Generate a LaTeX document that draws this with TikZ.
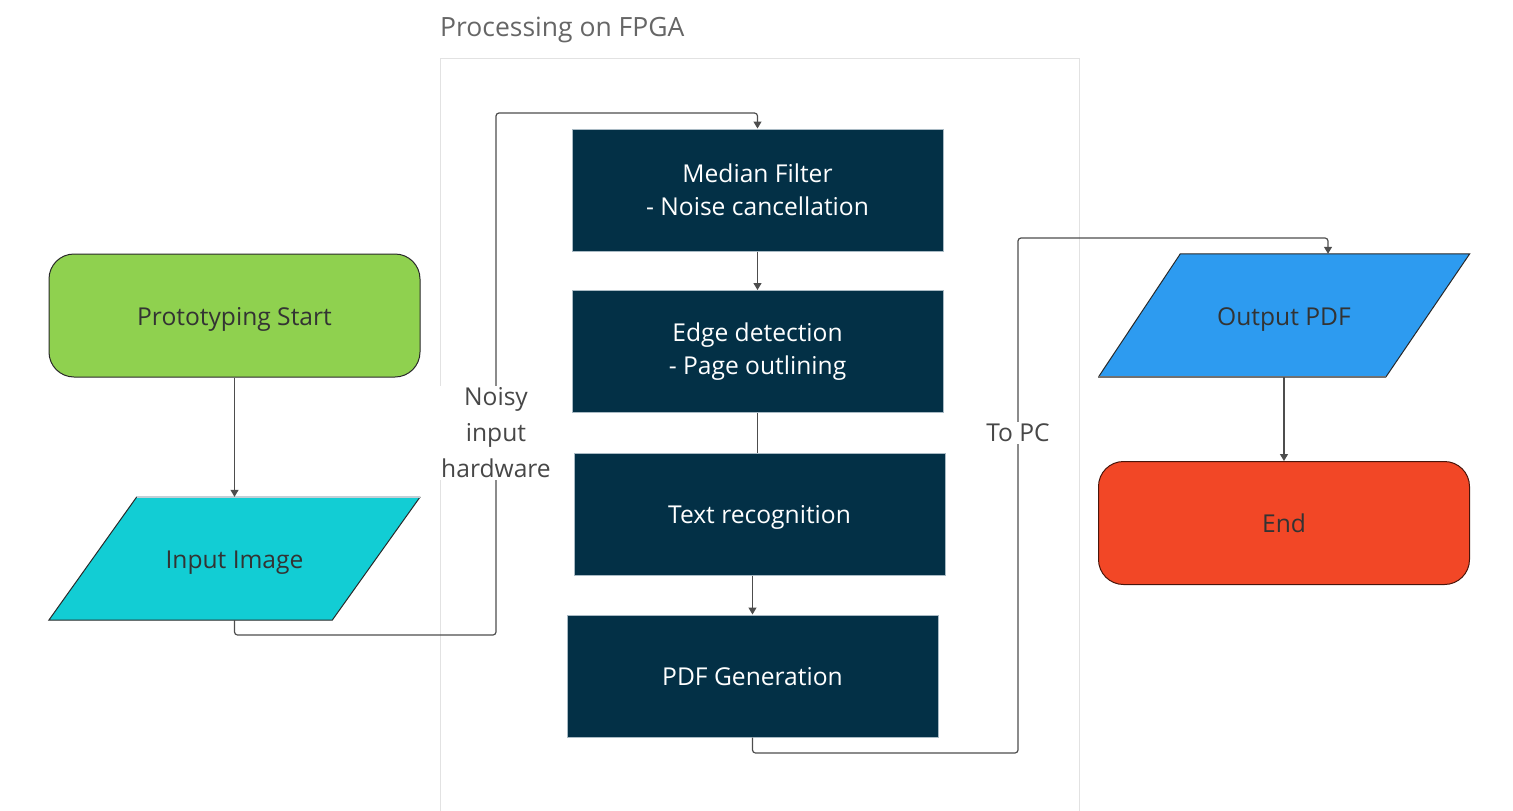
\documentclass[tikz,border=0pt]{standalone}
\usepackage{fontspec}
\setmainfont{Open Sans}
\usetikzlibrary{arrows.meta,calc}
\definecolor{cgreen}{HTML}{8FD14F}
\definecolor{ccyan}{HTML}{12CDD4}
\definecolor{cblue}{HTML}{2D9BF0}
\definecolor{cred}{HTML}{F24726}
\definecolor{cnavy}{HTML}{033046}
\definecolor{cnavyedge}{HTML}{A9BAC4}
\definecolor{cline}{HTML}{4D4D4D}
\definecolor{ctext}{HTML}{333333}
\definecolor{ctitle}{HTML}{666666}
\definecolor{cframe}{HTML}{E2E2E2}
\tikzset{
  basefont/.style={font=\fontsize{24.6}{33}\selectfont},
  oneline/.style={text height=26pt, text depth=7pt},
  termbox/.style={basefont, oneline, rounded corners=25pt, draw=ctext!80!black, line width=1pt,
    minimum width=371pt, minimum height=123pt, inner sep=0pt, text=ctext},
  procbox/.style={basefont, fill=cnavy, draw=cnavyedge, line width=1pt,
    minimum width=371pt, minimum height=122pt, inner sep=0pt, text=white, align=center},
  iobox/.style={basefont, minimum width=371pt, minimum height=123pt, inner sep=0pt, text=ctext},
  para/.style={draw=ctext!80!black, line width=1pt},
  conn/.style={draw=cline, line width=1.2pt, rounded corners=3pt},
  arr/.style={-{Triangle[width=8pt,length=7pt]}},
  lbl/.style={font=\fontsize{24.6}{36}\selectfont, fill=white, text=ctext!90, align=center, inner sep=2pt},
}
\begin{document}
\begin{tikzpicture}[x=1pt,y=-1pt]
\useasboundingbox (0,0) rectangle (1513,811);
% container
\draw[cframe, line width=1pt] (440,58) rectangle (1079,830);
\node[font=\fontsize{26.5}{32}\selectfont, text=ctitle, anchor=west, inner sep=0pt] (title) at (440,30) {Processing on FPGA};

% nodes
\node[termbox, fill=cgreen] (start) at (234.5,315.5) {Prototyping Start};
\node[iobox] (in) at (234.5,558.5) {};
\fill[ccyan] ($(in.north west)+(88,0)$) -- (in.north east) -- ($(in.south east)+(-88,0)$) -- (in.south west) -- cycle;
\draw[para] ($(in.north east)$) -- ($(in.south east)+(-88,0)$) -- (in.south west) -- ($(in.north west)+(88,0)$);
\draw[cnavyedge!70, line width=1.5pt] ($(in.north west)+(88,0)$) -- (in.north east);
\node[basefont, oneline, text=ctext, inner sep=0pt] (inlbl) at (in.center) {Input Image};

\node[procbox] (mf) at (757.5,190) {Median Filter\\- Noise cancellation};
\node[procbox] (ed) at (757.5,351.5) {Edge detection\\- Page outlining};
\node[procbox, oneline] (tr) at (759.5,514) {Text recognition};
\node[procbox, oneline] (pg) at (752.5,676) {PDF Generation};

\node[iobox] (out) at (1284,315.5) {};
\fill[cblue] ($(out.north west)+(82,0)$) -- ($(out.north east)$) -- ($(out.south east)+(-84,0)$) -- (out.south west) -- cycle;
\draw[para] (out.south west) -- ($(out.north west)+(82,0)$) -- (out.north east) -- ($(out.south east)+(-84,0)$);
\draw[cline!80, line width=1.5pt] (out.south west) -- ($(out.south east)+(-84,0)$);
\node[basefont, oneline, text=ctext, inner sep=0pt] (outlbl) at (out.center) {Output PDF};

\node[termbox, fill=cred, draw=black!70!cred] (end) at (1284,523) {End};

% connectors
\coordinate (a1) at (234.5,635);
\coordinate (a2) at (496,635);
\coordinate (a3) at (496,113);
\coordinate (a4) at (757.5,113);
\draw[conn, arr] (start.south) -- (in.north);
\draw[conn, arr] (in.south) -- (a1) -- (a2) -- (a3) -- (a4) -- (mf.north);
\draw[conn, arr] (mf.south) -- (ed.north);
\draw[conn] (ed.south) -- (ed.south |- tr.north);
\draw[conn, arr] (tr.south -| pg.north) -- (pg.north);
\coordinate (b1) at (752.5,753);
\coordinate (b2) at (1018,753);
\coordinate (b3) at (1018,238);
\coordinate (b4) at (1328,238);
\draw[conn, arr] (pg.south) -- (b1) -- (b2) -- (b3) -- (b4) -- (b4 |- out.north);
\draw[conn, arr] (out.south) -- (end.north);

% labels
\node[lbl] (noisy) at (496,433) {Noisy\\input\\hardware};
\node[lbl] (topc) at (1018,433) {To PC};
\end{tikzpicture}
\end{document}
